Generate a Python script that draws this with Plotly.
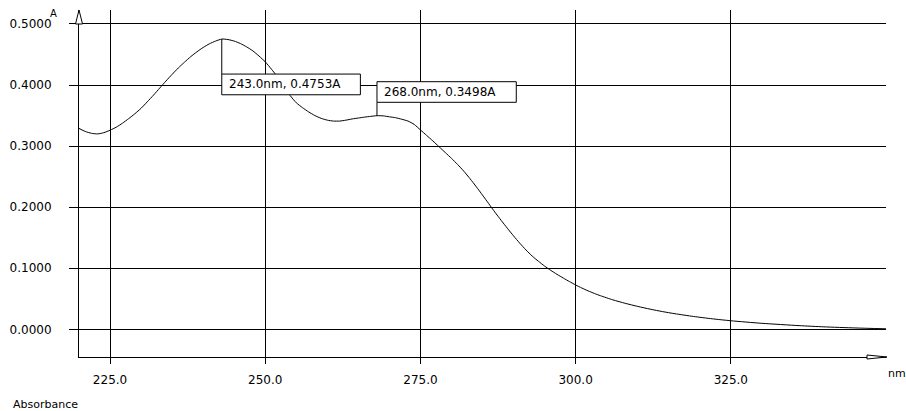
import plotly.graph_objects as go

# Wavelength (nm) and absorbance (A)
wavelength = [220, 221, 222, 223, 224, 225, 226, 227, 228, 229, 230, 231, 232, 233, 234,
              235, 236, 237, 238, 239, 240, 241, 242, 243, 244, 245, 246, 247, 248, 249,
              250, 251, 252, 253, 254, 255, 256, 257, 258, 259, 260, 261, 262, 263, 264,
              265, 266, 267, 268, 269, 270, 271, 272, 273, 274, 275, 276, 277, 278, 279,
              280, 281, 282, 283, 284, 285, 286, 287, 288, 289, 290, 291, 292, 293, 294,
              295, 296, 297, 298, 299, 300, 301, 302, 303, 304, 306, 308, 310, 312, 314,
              316, 319, 322, 325, 330, 336, 340, 345, 350]
absorbance = [0.329, 0.324, 0.321, 0.320, 0.322, 0.326, 0.331, 0.3375, 0.345, 0.353,
              0.362, 0.3725, 0.3835, 0.395, 0.4065, 0.4175, 0.428, 0.4375, 0.4465, 0.4545,
              0.4615, 0.4675, 0.472, 0.4753, 0.4745, 0.472, 0.468, 0.4625, 0.456, 0.4475,
              0.438, 0.426, 0.413, 0.398, 0.383, 0.371, 0.363, 0.356, 0.350, 0.3455,
              0.3425, 0.341, 0.341, 0.3425, 0.3445, 0.346, 0.3475, 0.3487, 0.3498, 0.3495,
              0.348, 0.3465, 0.344, 0.341, 0.3355, 0.3265, 0.3175, 0.3085, 0.299, 0.2895,
              0.2800, 0.2698, 0.2588, 0.2465, 0.2335, 0.2198, 0.2058, 0.1918, 0.1785,
              0.1655, 0.1530, 0.1410, 0.1300, 0.1200, 0.1115, 0.1035, 0.0965, 0.0900,
              0.0840, 0.0782, 0.0726, 0.0676, 0.0630, 0.0588, 0.0550, 0.0482, 0.0425,
              0.0375, 0.0330, 0.0290, 0.0255, 0.0210, 0.0172, 0.0140, 0.0098, 0.0060,
              0.0040, 0.0022, 0.0008]

x_ticks = [225.0, 250.0, 275.0, 300.0, 325.0]
y_ticks = [0.0, 0.1, 0.2, 0.3, 0.4, 0.5]

peak_nm = [243.0, 268.0]
peak_abs = [0.4753, 0.3498]
peak_labels = [f"{w:.1f}nm, {a:.4f}A" for w, a in zip(peak_nm, peak_abs)]

FONT = "DejaVu Sans"
FS = 12

fig = go.Figure()
fig.add_trace(go.Scatter(
    x=wavelength, y=absorbance, mode="lines",
    line=dict(color="black", width=1, shape="spline", smoothing=0.6),
    hoverinfo="skip", showlegend=False))

# Peak label boxes, leader lines and texts
box_offsets = [(-35, -55.7, 138.6), (13.4, 34.0, 139.3)]  # pixel offsets (near, far, width)
for w, a, lab, (near, far, bw) in zip(peak_nm, peak_abs, peak_labels, box_offsets):
    fig.add_shape(type="line", xref="x", yref="y",
                  x0=w, x1=w, ysizemode="pixel", yanchor=a, y0=0, y1=near,
                  line=dict(color="black", width=1), layer="above")
    fig.add_shape(type="rect", xref="x", yref="y",
                  xsizemode="pixel", xanchor=w, x0=0, x1=bw,
                  ysizemode="pixel", yanchor=a, y0=near, y1=far,
                  line=dict(color="black", width=1), fillcolor="white", layer="above")
    fig.add_annotation(x=w, y=a, xref="x", yref="y", text=lab, showarrow=False,
                       xanchor="left", yanchor="middle", xshift=5,
                       yshift=(near + far) / 2,
                       font=dict(family=FONT, size=FS, color="black"))

# Axis arrows (open triangles)
fig.add_shape(type="path", xref="paper", yref="paper",
              xsizemode="pixel", xanchor=0, ysizemode="pixel", yanchor=1,
              path="M -3.5,-14 L 0,0 L 3.5,-14 Z",
              line=dict(color="black", width=1), fillcolor="white", layer="above")
fig.add_shape(type="path", xref="paper", yref="paper",
              xsizemode="pixel", xanchor=1, ysizemode="pixel", yanchor=0,
              path="M -19,2 L 1,0 L -19,-2 Z",
              line=dict(color="black", width=1), fillcolor="white", layer="above")

# Axis titles
fig.add_annotation(x=0, y=1, xref="paper", yref="paper", text="A", showarrow=False,
                   xanchor="center", yanchor="middle", xshift=-25.5, yshift=-3,
                   font=dict(family=FONT, size=FS - 2, color="black"))
fig.add_annotation(x=1, y=0, xref="paper", yref="paper", text="nm", showarrow=False,
                   xanchor="center", yanchor="middle", xshift=11, yshift=-16,
                   font=dict(family=FONT, size=FS - 1, color="black"))
fig.add_annotation(x=0, y=0, xref="paper", yref="paper", text="Absorbance", showarrow=False,
                   xanchor="center", yanchor="middle", xshift=-34, yshift=-47,
                   font=dict(family=FONT, size=FS - 1, color="black"))

fig.update_layout(
    width=906, height=411,
    margin=dict(l=77, r=20, t=10, b=54),
    paper_bgcolor="white", plot_bgcolor="white",
    font=dict(family=FONT, size=FS, color="black"),
    xaxis=dict(range=[220, 350], tickvals=x_ticks, ticktext=[f"{v:.1f}" for v in x_ticks],
               showgrid=True, gridcolor="black", gridwidth=1,
               showline=True, linecolor="black", linewidth=1,
               ticks="outside", ticklen=6, tickcolor="black", tickwidth=1,
               ticklabelstandoff=6, zeroline=False, fixedrange=True),
    yaxis=dict(range=[-0.04537, 0.5229], tickvals=y_ticks,
               ticktext=[f"{v:.4f}" for v in y_ticks],
               showgrid=True, gridcolor="black", gridwidth=1,
               showline=True, linecolor="black", linewidth=1,
               ticks="outside", ticklen=9, tickcolor="black", tickwidth=1,
               ticklabelstandoff=15, zeroline=False, fixedrange=True),
)

fig.write_html("out.html", config={"displayModeBar": False},
               post_script="document.body.style.margin='0px';document.body.style.padding='0px';")
